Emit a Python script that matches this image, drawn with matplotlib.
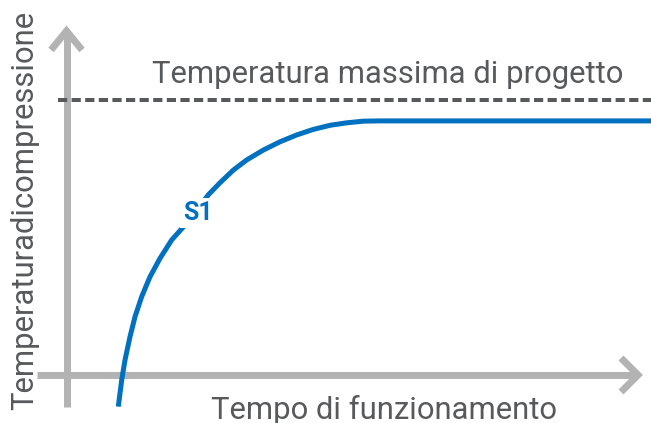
import matplotlib
matplotlib.use("Agg")
import matplotlib.pyplot as plt

# ---- data (time in arbitrary units, temperature in arbitrary units) ----
time_s1 = [0.907, 0.967, 1.025, 1.112, 1.200, 1.317, 1.462, 1.637, 1.842, 2.075,
           2.285, 2.483, 2.688, 2.921, 3.156, 3.447, 3.739, 4.032, 4.322, 4.615,
           4.907, 5.198, 5.490, 10.25]
temp_s1 = [-11.5, -1.8, 5.5, 13.9, 21.2, 28.5, 35.7, 42.4, 49.1, 54.5,
           60.0, 65.5, 69.9, 74.5, 78.2, 81.8, 84.8, 87.3, 89.3, 90.8,
           91.7, 92.3, 92.4, 92.4]
design_max_temp = 100.0
series_label = "S1"
title_text = "Temperatura massima di progetto"
x_label = "Tempo di funzionamento"
y_label = "Temperaturadicompressione"

W, H = 651, 423
PX_T = 57.1   # pixels per time unit
PX_Y = 2.75   # pixels per temperature unit
X0, Y0 = 66.5, 375.0

def px(x, y):
    return (x - X0) / PX_T, (Y0 - y) / PX_Y

fig = plt.figure(figsize=(W / 100, H / 100), dpi=100)
ax = fig.add_axes([0, 0, 1, 1])
ax.set_xlim(px(0, 0)[0], px(W, 0)[0])
ax.set_ylim(px(0, H)[1], px(0, 0)[1])
ax.axis("off")

gray = "#b3b3b3"
blue = "#0070c0"
dark = "#58595b"
axis_lw = 7 * 0.72

# axes with arrows
(vx0, vy0), (vx1, vy1) = px(X0, 407), px(X0, 31)
ax.plot([vx0, vx1], [vy0, vy1], color=gray, lw=axis_lw, solid_capstyle="butt")
(hx0, hy0), (hx1, hy1) = px(37, Y0), px(638, Y0)
ax.plot([hx0, hx1], [hy0, hy1], color=gray, lw=axis_lw, solid_capstyle="butt")
a1 = [px(51, 50), px(X0, 31), px(82, 50)]
ax.plot([p[0] for p in a1], [p[1] for p in a1], color=gray, lw=axis_lw,
        solid_capstyle="butt", solid_joinstyle="miter")
a2 = [px(621, 358), px(638, Y0), px(621, 392)]
ax.plot([p[0] for p in a2], [p[1] for p in a2], color=gray, lw=axis_lw,
        solid_capstyle="butt", solid_joinstyle="miter")

# design max line
ax.plot([px(58, 0)[0], px(W, 0)[0]], [design_max_temp, design_max_temp],
        color=dark, lw=4 * 0.72, linestyle=(0, (2.3, 1.1)))

# curve
ax.plot(time_s1, temp_s1, color=blue, lw=5 * 0.72, solid_capstyle="butt",
        solid_joinstyle="round")

font = "Roboto"
tx, ty = px(152, 83)
ax.text(tx, ty, title_text, fontsize=22.3, color=dark, family=font,
        ha="left", va="baseline")
bx, by = px(211, 419)
ax.text(bx, by, x_label, fontsize=22.3, color=dark, family=font,
        ha="left", va="baseline")
lx, ly = px(33, 210)
ax.text(lx, ly, y_label, fontsize=22.3, color=dark, family=font, rotation=90,
        rotation_mode="anchor", ha="center", va="baseline")
sx, sy = px(197.5, 213)
ax.text(sx, sy, series_label, fontsize=18, color=blue, family=font,
        fontweight="bold", ha="center", va="center",
        bbox=dict(facecolor="white", edgecolor="none", pad=2))

fig.savefig("out.png", dpi=100)
